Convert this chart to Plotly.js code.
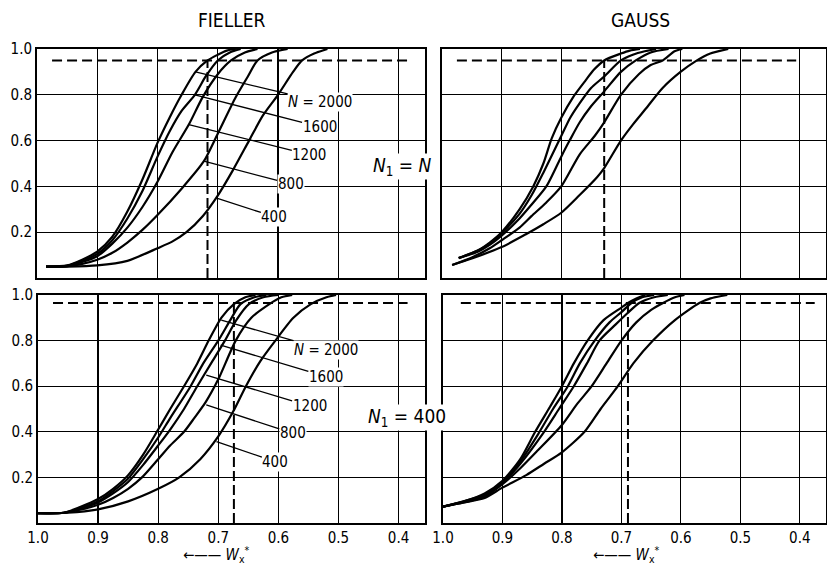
<!DOCTYPE html>
<html><head><meta charset="utf-8">
<script src="https://cdn.plot.ly/plotly-3.0.1.min.js"></script>
<style>html,body{margin:0;padding:0;background:#fff}#c{width:827px;height:566px}</style>
</head><body><div id="c"></div>
<script>
// ---- Data: FIELLER, N1 = N (top-left)
const fTop2000X=[0.985,0.95,0.925,0.9,0.875,0.85,0.825,0.80,0.78,0.76,0.737,0.717,0.70,0.685,0.67];
const fTop2000Y=[0.05,0.055,0.08,0.115,0.18,0.29,0.43,0.59,0.70,0.80,0.90,0.95,0.975,0.993,1.0];
const fTop1600X=[0.985,0.95,0.925,0.9,0.875,0.85,0.825,0.80,0.78,0.76,0.738,0.72,0.70,0.68,0.662];
const fTop1600Y=[0.05,0.053,0.075,0.105,0.165,0.26,0.38,0.53,0.64,0.73,0.80,0.88,0.95,0.985,1.0];
const fTop1200X=[0.985,0.95,0.925,0.9,0.875,0.85,0.825,0.80,0.775,0.748,0.725,0.70,0.678,0.655,0.634];
const fTop1200Y=[0.05,0.052,0.07,0.095,0.15,0.22,0.31,0.42,0.55,0.67,0.79,0.89,0.95,0.985,1.0];
const fTop800X=[0.985,0.95,0.925,0.9,0.875,0.85,0.825,0.80,0.76,0.723,0.70,0.67,0.65,0.634,0.61,0.584];
const fTop800Y=[0.05,0.052,0.062,0.08,0.11,0.155,0.21,0.275,0.39,0.51,0.63,0.79,0.88,0.95,0.985,1.0];
const fTop400X=[0.985,0.95,0.9,0.85,0.8,0.775,0.752,0.725,0.70,0.675,0.648,0.625,0.60,0.575,0.56,0.54,0.518];
const fTop400Y=[0.05,0.05,0.055,0.075,0.13,0.16,0.20,0.27,0.36,0.47,0.60,0.71,0.80,0.90,0.95,0.98,1.0];
// ---- GAUSS, N1 = N (top-right)
const gTop2000X=[0.972,0.94,0.92,0.9,0.87,0.847,0.83,0.816,0.80,0.78,0.76,0.745,0.728,0.70,0.685,0.668];
const gTop2000Y=[0.087,0.12,0.155,0.20,0.30,0.40,0.50,0.61,0.70,0.79,0.86,0.91,0.95,0.98,0.993,1.0];
const gTop1600X=[0.972,0.94,0.92,0.9,0.87,0.85,0.83,0.80,0.785,0.769,0.75,0.728,0.70,0.68,0.66,0.641];
const gTop1600Y=[0.087,0.12,0.15,0.195,0.28,0.36,0.46,0.62,0.70,0.764,0.83,0.88,0.95,0.975,0.99,1.0];
const gTop1200X=[0.972,0.94,0.92,0.9,0.87,0.85,0.825,0.80,0.786,0.769,0.75,0.728,0.70,0.675,0.65,0.62];
const gTop1200Y=[0.087,0.115,0.145,0.185,0.26,0.32,0.40,0.53,0.60,0.68,0.75,0.815,0.90,0.95,0.985,1.0];
const gTop800X=[0.983,0.95,0.92,0.9,0.87,0.85,0.825,0.80,0.769,0.744,0.728,0.70,0.67,0.65,0.63,0.61,0.597];
const gTop800Y=[0.057,0.09,0.13,0.165,0.22,0.27,0.33,0.40,0.54,0.62,0.68,0.80,0.89,0.93,0.95,0.99,1.0];
const gTop400X=[0.983,0.95,0.9,0.86,0.83,0.80,0.77,0.74,0.728,0.70,0.68,0.658,0.63,0.60,0.575,0.55,0.52];
const gTop400Y=[0.057,0.085,0.135,0.19,0.235,0.285,0.36,0.44,0.48,0.60,0.67,0.74,0.83,0.90,0.946,0.98,1.0];
// ---- FIELLER, N1 = 400 (bottom-left)
const fBot2000X=[1.0,0.957,0.93,0.9,0.875,0.85,0.825,0.80,0.78,0.757,0.735,0.716,0.695,0.674,0.655,0.638];
const fBot2000Y=[0.043,0.045,0.07,0.105,0.15,0.21,0.30,0.41,0.50,0.60,0.70,0.80,0.90,0.96,0.99,1.0];
const fBot1600X=[1.0,0.957,0.93,0.9,0.875,0.85,0.825,0.80,0.78,0.746,0.725,0.70,0.68,0.663,0.64,0.62];
const fBot1600Y=[0.043,0.045,0.065,0.095,0.14,0.195,0.28,0.375,0.46,0.60,0.70,0.80,0.89,0.96,0.99,1.0];
const fBot1200X=[1.0,0.957,0.93,0.9,0.875,0.85,0.825,0.80,0.78,0.757,0.735,0.712,0.689,0.67,0.649,0.625,0.60];
const fBot1200Y=[0.043,0.045,0.062,0.09,0.13,0.18,0.255,0.34,0.41,0.50,0.60,0.70,0.80,0.89,0.96,0.99,1.0];
const fBot800X=[1.0,0.957,0.93,0.9,0.875,0.85,0.827,0.80,0.78,0.757,0.74,0.721,0.70,0.671,0.645,0.615,0.595,0.577];
const fBot800Y=[0.043,0.045,0.058,0.08,0.11,0.15,0.20,0.28,0.34,0.40,0.46,0.53,0.63,0.80,0.90,0.96,0.99,1.0];
const fBot400X=[1.0,0.95,0.9,0.85,0.8,0.765,0.73,0.70,0.675,0.654,0.63,0.605,0.575,0.546,0.52,0.504];
const fBot400Y=[0.043,0.045,0.06,0.095,0.15,0.20,0.28,0.38,0.49,0.60,0.71,0.80,0.90,0.96,0.99,1.0];
// ---- GAUSS, N1 = 400 (bottom-right)
const gBot2000X=[1.0,0.965,0.93,0.9,0.87,0.845,0.82,0.80,0.78,0.757,0.73,0.70,0.689,0.675,0.66];
const gBot2000Y=[0.072,0.095,0.13,0.185,0.28,0.40,0.51,0.60,0.70,0.80,0.89,0.945,0.965,0.985,1.0];
const gBot1600X=[1.0,0.965,0.93,0.9,0.87,0.84,0.815,0.79,0.77,0.745,0.72,0.70,0.683,0.665,0.645];
const gBot1600Y=[0.072,0.095,0.125,0.18,0.27,0.39,0.50,0.60,0.70,0.80,0.88,0.925,0.965,0.99,1.0];
const gBot1200X=[1.0,0.965,0.93,0.9,0.87,0.83,0.805,0.78,0.758,0.737,0.71,0.69,0.67,0.645,0.622];
const gBot1200Y=[0.072,0.093,0.12,0.175,0.26,0.40,0.50,0.60,0.70,0.80,0.87,0.92,0.965,0.99,1.0];
const gBot800X=[1.0,0.965,0.93,0.9,0.87,0.84,0.80,0.775,0.75,0.725,0.70,0.675,0.65,0.63,0.61,0.594];
const gBot800Y=[0.072,0.09,0.115,0.17,0.24,0.32,0.43,0.52,0.60,0.70,0.80,0.88,0.935,0.965,0.99,1.0];
const gBot400X=[1.0,0.965,0.93,0.9,0.86,0.83,0.80,0.762,0.735,0.706,0.68,0.647,0.61,0.569,0.55,0.522];
const gBot400Y=[0.072,0.09,0.11,0.155,0.21,0.26,0.31,0.40,0.50,0.60,0.70,0.80,0.89,0.965,0.985,1.0];
// ---- reference levels (dashed): [TL, TR, BL, BR]
const critLevel=[0.95,0.95,0.965,0.965];
const critW=[0.717,0.728,0.674,0.689];
const dashFrom=[0.975,0.975,0.975,0.97];
const dashTo=[0.385,0.406,0.385,0.375];
// ---- labels
const nLabels=["<i>N</i> = 2000","1600","1200","800","400"];
const topLabelX=[0.530,0.531,0.548,0.579,0.606];
const topLabelY=[0.770,0.660,0.538,0.411,0.267];
const topTipX=[0.737,0.738,0.748,0.723,0.703];
const topTipY=[0.90,0.80,0.67,0.51,0.35];
const botLabelX=[0.521,0.521,0.548,0.576,0.605];
const botLabelY=[0.759,0.642,0.513,0.393,0.269];
const botTipX=[0.695,0.696,0.72,0.72,0.703];
const botTipY=[0.89,0.78,0.649,0.518,0.357];
const yTicks=[0.2,0.4,0.6,0.8,1.0];
const xTicks=[1.0,0.9,0.8,0.7,0.6,0.5,0.4];

const FONT="'DejaVu Sans Condensed','Liberation Sans Narrow','Roboto Condensed','DejaVu Sans',sans-serif";
const panels=[
 {xa:'x',ya:'y',curves:[[fTop2000X,fTop2000Y],[fTop1600X,fTop1600Y],[fTop1200X,fTop1200Y],[fTop800X,fTop800Y],[fTop400X,fTop400Y]]},
 {xa:'x2',ya:'y2',curves:[[gTop2000X,gTop2000Y],[gTop1600X,gTop1600Y],[gTop1200X,gTop1200Y],[gTop800X,gTop800Y],[gTop400X,gTop400Y]]},
 {xa:'x3',ya:'y3',curves:[[fBot2000X,fBot2000Y],[fBot1600X,fBot1600Y],[fBot1200X,fBot1200Y],[fBot800X,fBot800Y],[fBot400X,fBot400Y]]},
 {xa:'x4',ya:'y4',curves:[[gBot2000X,gBot2000Y],[gBot1600X,gBot1600Y],[gBot1200X,gBot1200Y],[gBot800X,gBot800Y],[gBot400X,gBot400Y]]}
];
const traces=[];
panels.forEach((p,i)=>{
  traces.push({x:[dashFrom[i],dashTo[i]],y:[critLevel[i],critLevel[i]],xaxis:p.xa,yaxis:p.ya,mode:'lines',
    line:{color:'#000',width:2,dash:'10px,5px'},hoverinfo:'skip'});
  traces.push({x:[critW[i],critW[i]],y:[0,critLevel[i]],xaxis:p.xa,yaxis:p.ya,mode:'lines',
    line:{color:'#000',width:2,dash:'10px,4px'},hoverinfo:'skip'});
  p.curves.forEach(c=>traces.push({x:c[0],y:c[1],xaxis:p.xa,yaxis:p.ya,mode:'lines',
    line:{color:'#000',width:2.2,shape:'spline',smoothing:0.7},hoverinfo:'skip'}));
});

const W=827,H=566;
const dx=(a,b)=>[a/W,b/W], dy=(top,bot)=>[1-bot/H,1-top/H];
function xax(dom,labels){return {domain:dom,range:[1.0,0.356],tickvals:xTicks,ticktext:xTicks.map(v=>v.toFixed(1)),
  showticklabels:labels,ticks:'',showgrid:true,gridcolor:'#000',gridwidth:1.2,zeroline:false,
  showline:true,mirror:true,linecolor:'#000',linewidth:2,tickfont:{family:FONT,size:15,color:'#000'},fixedrange:true};}
function yax(dom,labels){return {domain:dom,range:[0,1.0],tickvals:yTicks,ticktext:yTicks.map(v=>v.toFixed(1)),
  showticklabels:labels,ticks:'',showgrid:true,gridcolor:'#000',gridwidth:1.2,zeroline:false,
  showline:true,mirror:true,linecolor:'#000',linewidth:2,tickfont:{family:FONT,size:15,color:'#000'},fixedrange:true};}

const ann=[];
function addLabels(xa,ya,lx,ly,tx,ty){
  for(let i=0;i<nLabels.length;i++){
    ann.push({xref:xa,yref:ya,x:tx[i],y:ty[i],ax:lx[i],ay:ly[i],axref:xa,ayref:ya,text:nLabels[i],
      showarrow:true,arrowhead:0,arrowwidth:1.3,arrowcolor:'#000',bgcolor:'#fff',borderpad:0,
      font:{family:FONT,size:15,color:'#000'}});
  }
}
addLabels('x','y',topLabelX,topLabelY,topTipX,topTipY);
addLabels('x3','y3',botLabelX,botLabelY,botTipX,botTipY);
function pa(x,y,text,size,bg,ya){ann.push({xref:'paper',yref:'paper',x:x,y:y,xanchor:'center',yanchor:ya||'middle',text:text,
  showarrow:false,bgcolor:bg?'#fff':'rgba(0,0,0,0)',borderpad:0,font:{family:FONT,size:size,color:'#000'}});}
pa(0.2805,0.965,'FIELLER',19,false);
pa(0.774,0.965,'GAUSS',19,false);
pa(0.487,0.705,'<i>N</i><sub>1</sub> = <i>N</i>',19,true);
pa(0.492,0.263,'<i>N</i><sub>1</sub> = 400',19,true);
pa(0.262,0.0,'←—— <i>W</i><sub>x</sub><sup>*</sup>',15,false,'bottom');
pa(0.758,0.0,'←—— <i>W</i><sub>x</sub><sup>*</sup>',15,false,'bottom');

const layout={width:W,height:H,margin:{l:0,r:0,t:0,b:0},paper_bgcolor:'#fff',plot_bgcolor:'#fff',showlegend:false,
  font:{family:FONT,color:'#000'},
  xaxis:xax(dx(37,425),false), yaxis:yax(dy(49,278),true),
  xaxis2:xax(dx(442,826),false), yaxis2:yax(dy(49,278),false),
  xaxis3:xax(dx(38,425),true), yaxis3:yax(dy(295,523),true),
  xaxis4:xax(dx(443,826),true), yaxis4:yax(dy(295,523),false),
  annotations:ann};
layout.xaxis.anchor='y'; layout.yaxis.anchor='x';
layout.xaxis2.anchor='y2'; layout.yaxis2.anchor='x2';
layout.xaxis3.anchor='y3'; layout.yaxis3.anchor='x3';
layout.xaxis4.anchor='y4'; layout.yaxis4.anchor='x4';
Plotly.newPlot('c',traces,layout,{staticPlot:true});
</script></body></html>
